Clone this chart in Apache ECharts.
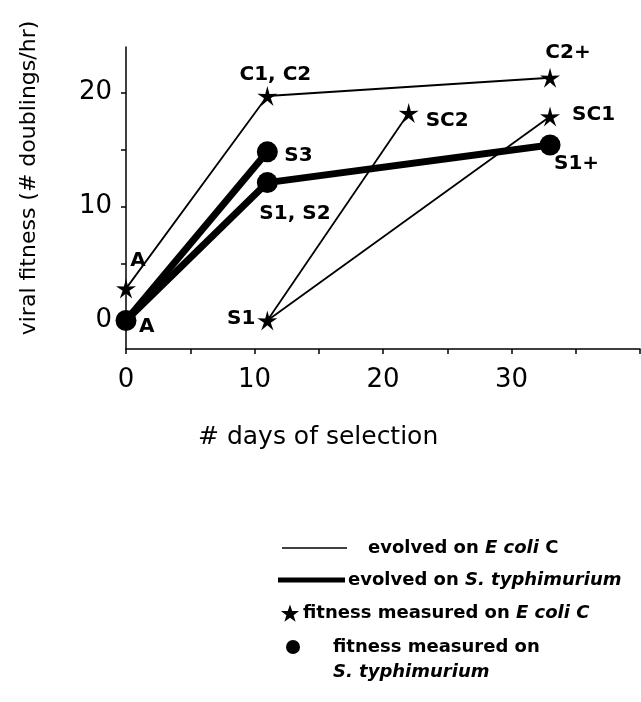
<!DOCTYPE html>
<html>
<head>
<meta charset="utf-8">
<script src="https://cdn.jsdelivr.net/npm/echarts@6/dist/echarts.min.js"></script>
<style>
html,body{margin:0;padding:0;background:#fff;}
#chart{width:641px;height:702px;}
</style>
</head>
<body>
<div id="chart"></div>
<script>
// ---- data ----
// points measured on E. coli C (stars): [day, fitness, label]
const ecoliStars = [
  [0, 2.8, 'A'],
  [11, 19.7, 'C1, C2'],
  [11, 0, 'S1'],
  [22, 18.2, 'SC2'],
  [33, 21.3, 'C2+'],
  [33, 17.9, 'SC1']
];
// points measured on S. typhimurium (dots): [day, fitness, label]
const salmDots = [
  [0, 0, 'A'],
  [11, 14.8, 'S3'],
  [11, 12.1, 'S1, S2'],
  [33, 15.4, 'S1+']
];
// lineages evolved on E. coli C (thin lines)
const thinLines = [
  [[0, 2.8], [11, 19.7], [33, 21.3]],
  [[11, 0], [22, 18.2]],
  [[11, 0], [33, 17.9]]
];
// lineages evolved on S. typhimurium (thick lines)
const thickLines = [
  [[0, 0], [11, 14.8]],
  [[0, 0], [11, 12.1], [33, 15.4]]
];
const xTickValues = [0, 5, 10, 15, 20, 25, 30, 35, 40];
const xLabelValues = [0, 10, 20, 30];
const yTickValues = [0, 5, 10, 15, 20];
const yLabelValues = [0, 10, 20];

// ---- label placement (style only) ----
const starLabelPlace = [
  {offset: [12, -28], align: 'center'},
  {offset: [8, -21], align: 'center'},
  {offset: [-12, -2], align: 'right'},
  {offset: [17, 8], align: 'left'},
  {offset: [18, -25], align: 'center'},
  {offset: [22, -2], align: 'left'}
];
const dotLabelPlace = [
  {offset: [13, 6], align: 'left'},
  {offset: [17, 4], align: 'left'},
  {offset: [-8, 31], align: 'left'},
  {offset: [4, 19], align: 'left'}
];

const STAR = 'path://M50 0 L59.99 36.25 L97.55 34.55 L66.17 55.25 L79.39 90.45 L50 67 L20.61 90.45 L33.83 55.25 L2.45 34.55 L40.01 36.25 Z';
const labelFont = {fontFamily: 'DejaVu Sans', fontWeight: 'bold', fontSize: 20, color: '#000', opacity: 1};

const series = [];
thinLines.forEach(l => series.push({
  type: 'line', data: l, symbol: 'none', silent: true, z: 2,
  lineStyle: {color: '#000', width: 1.8}
}));
thickLines.forEach(l => series.push({
  type: 'line', data: l, symbol: 'none', silent: true, z: 3,
  lineStyle: {color: '#000', width: 7}
}));
series.push({
  type: 'scatter', z: 5, symbol: STAR, symbolSize: 20,
  itemStyle: {color: '#000', opacity: 1},
  data: ecoliStars.map((p, i) => ({
    value: [p[0], p[1]], name: p[2],
    label: Object.assign({show: true, position: 'inside', formatter: p[2], verticalAlign: 'middle'}, labelFont, starLabelPlace[i])
  }))
});
series.push({
  type: 'scatter', z: 6, symbol: 'circle', symbolSize: 21,
  itemStyle: {color: '#000', opacity: 1},
  data: salmDots.map((p, i) => ({
    value: [p[0], p[1]], name: p[2],
    label: Object.assign({show: true, position: 'inside', formatter: p[2], verticalAlign: 'middle'}, labelFont, dotLabelPlace[i])
  }))
});

// legend star glyph (5-point filled star)
function starPoints(cx, cy, R, r) {
  const pts = [];
  for (let k = 0; k < 10; k++) {
    const ang = -Math.PI / 2 + k * Math.PI / 5;
    const rad = k % 2 === 0 ? R : r;
    pts.push([cx + rad * Math.cos(ang), cy + rad * Math.sin(ang)]);
  }
  return pts;
}

const legFont = 'bold 18px "DejaVu Sans"';
const legIt = {font: 'italic bold 18px "DejaVu Sans"', fill: '#000'};
const graphic = [
  {type: 'text', x: 198, y: 425, style: {text: '# days of selection', font: '25px "DejaVu Sans"', fill: '#000'}},
  {type: 'text', x: 29, y: 178, rotation: Math.PI / 2, style: {text: 'viral fitness (# doublings/hr)', font: '22px "DejaVu Sans"', fill: '#000', align: 'center', verticalAlign: 'middle'}},
  {type: 'line', shape: {x1: 282, y1: 548, x2: 347, y2: 548}, style: {stroke: '#000', lineWidth: 1.5}},
  {type: 'text', x: 368, y: 548, style: {text: 'evolved on {i|E coli} C', font: legFont, fill: '#000', verticalAlign: 'middle', rich: {i: legIt}}},
  {type: 'line', shape: {x1: 278, y1: 580, x2: 345, y2: 580}, style: {stroke: '#000', lineWidth: 5}},
  {type: 'text', x: 348, y: 580, style: {text: 'evolved on {i|S. typhimurium}', font: legFont, fill: '#000', verticalAlign: 'middle', rich: {i: legIt}}},
  {type: 'polygon', shape: {points: starPoints(290, 614, 9.5, 3.8)}, style: {fill: '#000'}},
  {type: 'text', x: 303, y: 613, style: {text: 'fitness measured on {i|E coli C}', font: legFont, fill: '#000', verticalAlign: 'middle', rich: {i: legIt}}},
  {type: 'circle', shape: {cx: 293, cy: 647, r: 7}, style: {fill: '#000'}},
  {type: 'text', x: 333, y: 647, style: {text: 'fitness measured on', font: legFont, fill: '#000', verticalAlign: 'middle'}},
  {type: 'text', x: 333, y: 672, style: {text: 'S. typhimurium', font: 'italic bold 18px "DejaVu Sans"', fill: '#000', verticalAlign: 'middle'}}
];

const chart = echarts.init(document.getElementById('chart'));
chart.setOption({
  backgroundColor: '#fff',
  animation: false,
  grid: {left: 126, right: 1, top: 47, bottom: 353, outerBoundsMode: 'none'},
  xAxis: {
    type: 'value', min: 0, max: 40, interval: 5,
    splitLine: {show: false},
    axisLine: {onZero: false, lineStyle: {color: '#000', width: 1.5}},
    axisTick: {show: true, length: 5, lineStyle: {color: '#000', width: 1.5}, customValues: xTickValues},
    axisLabel: {customValues: xLabelValues, fontFamily: 'DejaVu Sans', fontSize: 26, color: '#000', margin: 18}
  },
  yAxis: {
    type: 'value', min: -2.5, max: 24,
    splitLine: {show: false},
    axisLine: {show: true, onZero: false, lineStyle: {color: '#000', width: 1.5}},
    axisTick: {show: true, length: 5, lineStyle: {color: '#000', width: 1.5}, customValues: yTickValues},
    axisLabel: {customValues: yLabelValues, fontFamily: 'DejaVu Sans', fontSize: 26, color: '#000', margin: 14}
  },
  series: series,
  graphic: graphic
});
</script>
</body>
</html>
